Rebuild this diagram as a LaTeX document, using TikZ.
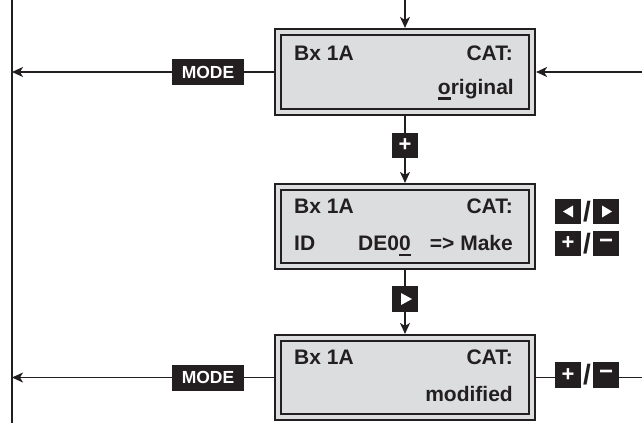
\documentclass[tikz,border=0pt]{standalone}
\usepackage{fontspec}
\setmainfont{Liberation Sans}
\usetikzlibrary{arrows.meta}
\definecolor{ink}{RGB}{35,31,32}
\definecolor{lcdgray}{RGB}{220,221,222}
\newcommand\ulchar[1]{\setbox0\hbox{#1}\rlap{\rule[-5.5pt]{\wd0}{2.2pt}}#1}
\begin{document}
\begin{tikzpicture}[x=1pt,y=-1pt,
  font=\fontsize{21}{21}\selectfont\bfseries,
  lcdbox/.style={draw=ink, line width=2.3pt, double=lcdgray, double distance=3.5pt,
    fill=lcdgray, minimum width=254pt, inner sep=0pt, outer sep=4.05pt},
  txt/.style={inner sep=0pt, text=ink},
  btn/.style={fill=ink, minimum width=26pt, minimum height=25.5pt, inner sep=0pt,
    text=white, font=\fontsize{22}{22}\selectfont\bfseries},
  modebtn/.style={fill=ink, minimum width=72pt, minimum height=26pt, inner sep=0pt,
    text=white, font=\fontsize{17.5}{17.5}\selectfont\bfseries},
  slashtxt/.style={inner sep=0pt, text=ink, font=\fontsize{28}{28}\selectfont\bfseries},
  conn/.style={draw=ink, line width=1.6pt},
  arr/.style={conn, -{Stealth[length=11pt,width=10pt,inset=3pt]}}]
\useasboundingbox (0,0) rectangle (642,423);

% LCD boxes
\node[lcdbox, minimum height=80pt] (box1) at (405,72) {};
\node[lcdbox, minimum height=79pt] (box2) at (405,226.5) {};
\node[lcdbox, minimum height=79pt] (box3) at (405,377.5) {};

% box texts
\node[txt, anchor=base west] (b1a) at (294,60) {Bx 1A};
\node[txt, anchor=base east] (b1b) at (513,60) {CAT:};
\node[txt, anchor=base east] (b1c) at (514,94) {\ulchar{o}riginal};

\node[txt, anchor=base west] (b2a) at (294,213) {Bx 1A};
\node[txt, anchor=base east] (b2b) at (513,213) {CAT:};
\node[txt, anchor=base west] (b2c) at (294,250.5) {ID};
\node[txt, anchor=base west] (b2d) at (358,250.5) {DE0\ulchar{0}};
\node[txt, anchor=base east] (b2e) at (513,250.5) {=> Make};

\node[txt, anchor=base west] (b3a) at (294,364) {Bx 1A};
\node[txt, anchor=base east] (b3b) at (513,364) {CAT:};
\node[txt, anchor=base east] (b3c) at (513,401) {modified};

% buttons
\node[modebtn] (mode1) at (208,72) {MODE};
\node[modebtn] (mode3) at (208,377.5) {MODE};
\node[btn] (plus1) at (405,145.5) {+};
\node[btn] (right2) at (405,299) {};

\node[btn] (left2r) at (568,211.5) {};
\node[slashtxt] (sl2a) at (587,211.5) {/};
\node[btn] (right2r) at (606,211.5) {};
\node[btn] (plus2r) at (568,243.5) {+};
\node[slashtxt] (sl2b) at (587,243.5) {/};
\node[btn] (minus2r) at (606,243.5) {\fontsize{24}{24}\selectfont −};

\node[btn] (plus3) at (568,375) {+};
\node[slashtxt] (sl3) at (587,375) {/};
\node[btn] (minus3) at (606,375) {\fontsize{24}{24}\selectfont −};

% triangle symbols
\fill[white, shift={(right2.center)}] (-4,-6) -- (-4,6) -- (7,0) -- cycle;
\fill[white, shift={(right2r.center)}] (-4,-6) -- (-4,6) -- (6,0) -- cycle;
\fill[white, shift={(left2r.center)}] (5,-6) -- (5,6) -- (-5,0) -- cycle;

% free ends
\coordinate (vtop) at (12,0);
\coordinate (vbot) at (12,423);
\coordinate (topin) at (405,0);
\coordinate (rightin) at (642,72);
\coordinate (rightout) at (642,377.5);

% connectors
\draw[conn] (vtop) -- (vbot);
\draw[arr] (topin) -- (box1.north);
\draw[arr] (rightin) -- (box1.east);
\draw[conn] (box1.west) -- (mode1.east);
\draw[arr] (mode1.west) -- (mode1.west -| vtop);
\draw[conn] (box1.south) -- (plus1.north);
\draw[arr] (plus1.south) -- (box2.north);
\draw[conn] (box2.south) -- (right2.north);
\draw[arr] (right2.south) -- (box3.north);
\draw[conn] (box3.west) -- (mode3.east);
\draw[arr] (mode3.west) -- (mode3.west -| vtop);
\draw[conn] (box3.east) -- (box3.east -| plus3.west);
\draw[conn] (box3.east -| minus3.east) -- (rightout);
\end{tikzpicture}
\end{document}
